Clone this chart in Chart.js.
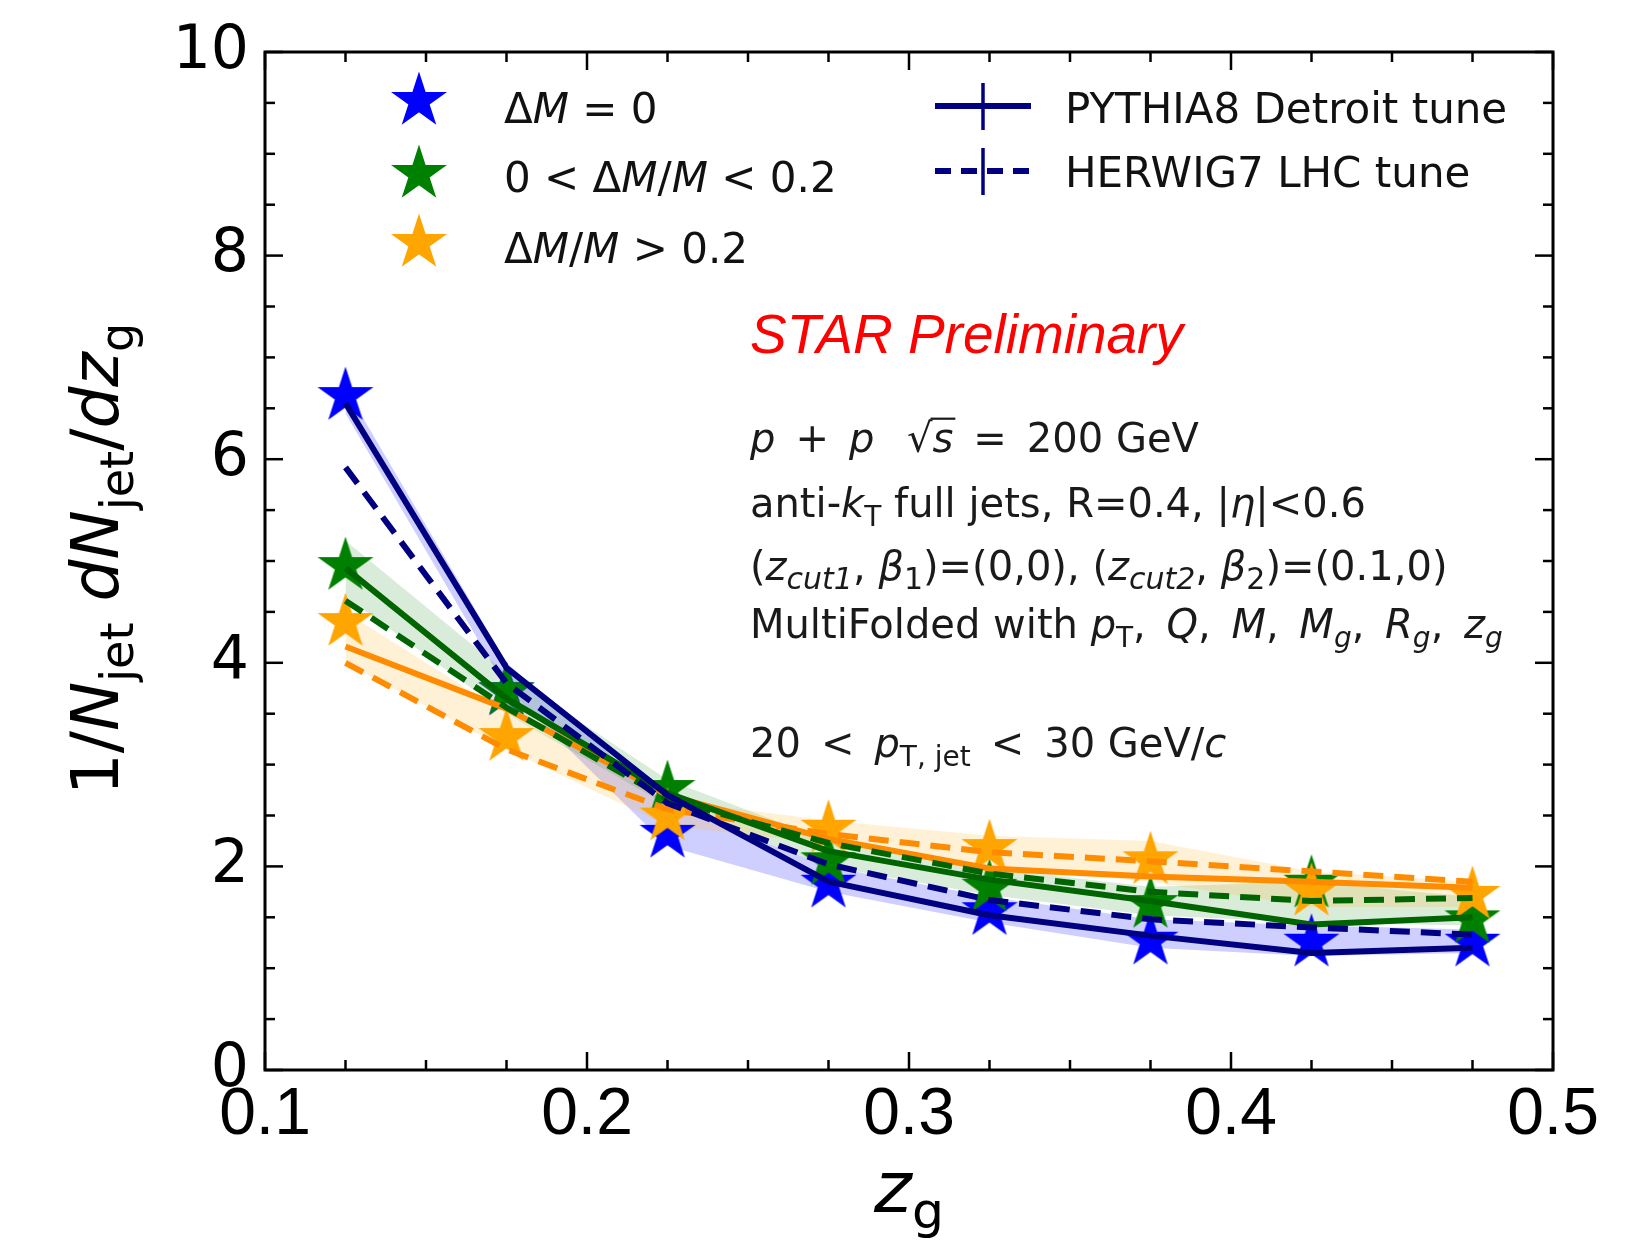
<!DOCTYPE html>
<html><head><meta charset="utf-8">
<script src="https://cdn.jsdelivr.net/npm/chart.js@4.4.1/dist/chart.umd.min.js"></script>
<style>html,body{margin:0;padding:0;background:#fff;} #wrap{width:1639px;height:1240px;position:relative;}</style>
</head><body><div id="wrap"><canvas id="c" width="1639" height="1240"></canvas></div>
<script>
// ---------------- data ----------------
const zg = [0.125, 0.175, 0.225, 0.275, 0.325, 0.375, 0.425, 0.475];
const xTickValues = [0.1, 0.2, 0.3, 0.4, 0.5];
const xTickLabels = ['0.1', '0.2', '0.3', '0.4', '0.5'];
const yTickValues = [0, 2, 4, 6, 8, 10];
const yTickLabels = ['0', '2', '4', '6', '8', '10'];

// data points (stars)
const dataM0   = [6.62, 3.72, 2.32, 1.83, 1.56, 1.27, 1.25, 1.25];
const dataMid  = [4.95, 3.72, 2.76, 2.05, 1.79, 1.63, 1.83, 1.48];
const dataHigh = [4.40, 3.27, 2.49, 2.37, 2.18, 2.06, 1.75, 1.72];
// uncertainty bands
const bandM0Lo   = [6.45, 3.75, 2.20, 1.75, 1.45, 1.20, 1.12, 1.15];
const bandM0Hi   = [6.70, 4.00, 2.60, 2.00, 1.70, 1.48, 1.42, 1.38];
const bandMidLo  = [4.65, 3.50, 2.60, 2.00, 1.72, 1.52, 1.45, 1.42];
const bandMidHi  = [5.20, 3.90, 2.85, 2.25, 1.98, 1.80, 1.85, 1.70];
const bandHighLo = [4.00, 3.15, 2.40, 2.22, 2.00, 1.85, 1.60, 1.60];
const bandHighHi = [4.50, 3.50, 2.65, 2.45, 2.30, 2.25, 1.95, 1.85];
// PYTHIA8 Detroit tune (solid)
const pyM0   = [6.55, 3.95, 2.70, 1.85, 1.52, 1.32, 1.15, 1.20];
const pyMid  = [4.93, 3.65, 2.72, 2.15, 1.87, 1.66, 1.43, 1.50];
const pyHigh = [4.16, 3.55, 2.70, 2.27, 1.98, 1.90, 1.85, 1.79];
// HERWIG7 LHC tune (dashed)
const hwM0   = [5.92, 3.80, 2.62, 2.02, 1.67, 1.48, 1.40, 1.33];
const hwMid  = [4.61, 3.56, 2.66, 2.23, 1.93, 1.75, 1.66, 1.69];
const hwHigh = [4.00, 3.15, 2.56, 2.32, 2.14, 2.05, 1.95, 1.85];

const pts = arr => arr.map((v, i) => ({x: zg[i], y: v}));

// ---------------- styles ----------------
const C_BLUE = '#0000ff', C_GREEN = '#008000', C_ORANGE = '#ffa500';
const C_NAVY = '#000080', C_DGREEN = '#006400', C_DORANGE = '#ff8c00';
const STAR_R = 27;
const LW = 6;

function starCanvas(color, R) {
  const s = Math.ceil(2 * R + 6);
  const c = document.createElement('canvas');
  c.width = s; c.height = s;
  const g = c.getContext('2d');
  g.translate(s / 2, s / 2);
  g.beginPath();
  for (let i = 0; i < 10; i++) {
    const r = i % 2 ? R * 0.382 : R;
    const a = -Math.PI / 2 + i * Math.PI / 5;
    g.lineTo(r * Math.cos(a), r * Math.sin(a));
  }
  g.closePath();
  g.fillStyle = color; g.fill();
  g.lineWidth = 1.5; g.strokeStyle = color; g.lineJoin = 'miter'; g.stroke();
  return c;
}
const starBlue = starCanvas(C_BLUE, STAR_R);
const starGreen = starCanvas(C_GREEN, STAR_R);
const starOrange = starCanvas(C_ORANGE, STAR_R);

function bandPair(lo, hi, fillColor, order) {
  return [
    {data: pts(hi), showLine: true, borderWidth: 0, pointRadius: 0, fill: '+1', backgroundColor: fillColor, borderColor: 'rgba(0,0,0,0)', order: order},
    {data: pts(lo), showLine: true, borderWidth: 0, pointRadius: 0, fill: false, borderColor: 'rgba(0,0,0,0)', order: order}
  ];
}
function starSet(arr, img, order) {
  return {data: pts(arr), showLine: false, pointStyle: img, pointRadius: STAR_R, pointHoverRadius: STAR_R, order: order};
}
function lineSet(arr, color, dashed, order) {
  return {data: pts(arr), showLine: true, borderColor: color, borderWidth: LW, borderDash: dashed ? [20, 11] : [],
          pointRadius: 0, fill: false, tension: 0, borderJoinStyle: 'round', order: order};
}

const datasets = [
  ...bandPair(bandM0Lo, bandM0Hi, 'rgba(0,0,255,0.19)', 40),
  ...bandPair(bandMidLo, bandMidHi, 'rgba(0,128,0,0.15)', 39),
  ...bandPair(bandHighLo, bandHighHi, 'rgba(255,165,0,0.16)', 38),
  starSet(dataM0, starBlue, 32),
  starSet(dataMid, starGreen, 31),
  starSet(dataHigh, starOrange, 30),
  lineSet(hwHigh, C_DORANGE, true, 16),
  lineSet(pyHigh, C_DORANGE, false, 15),
  lineSet(hwMid, C_DGREEN, true, 14),
  lineSet(pyMid, C_DGREEN, false, 13),
  lineSet(hwM0, C_NAVY, true, 12),
  lineSet(pyM0, C_NAVY, false, 11)
];

// ---------------- rich text helper ----------------
function drawRich(ctx, x, y, runs, size, family, color) {
  let cx = x;
  for (const r of runs) {
    const s = r.sub ? size * (r.ss || 0.7) : size;
    ctx.font = (r.it ? 'italic ' : '') + s + 'px "' + (r.fam || family) + '"';
    const dy = r.sub ? size * 0.22 : 0;
    ctx.fillStyle = r.color || color;
    ctx.fillText(r.t, cx, y + dy);
    const w = ctx.measureText(r.t).width;
    if (r.over) ctx.fillRect(cx - 2, y - size * 0.86, w + 4, Math.max(2, size * 0.055));
    cx += w;
  }
  return cx - x;
}
function richWidth(ctx, runs, size, family) {
  let w = 0;
  for (const r of runs) {
    const s = r.sub ? size * (r.ss || 0.7) : size;
    ctx.font = (r.it ? 'italic ' : '') + s + 'px "' + (r.fam || family) + '"';
    w += ctx.measureText(r.t).width;
  }
  return w;
}

// ---------------- decoration plugin ----------------
const SP = '\u2002'; // wider math-like space
const CM = ', \u2009'; // comma with math spacing
const decor = {
  id: 'decor',
  afterDraw(chart) {
    const ctx = chart.ctx, a = chart.chartArea, xs = chart.scales.x, ys = chart.scales.y;
    ctx.save();
    // ticks (inward, all four sides)
    ctx.strokeStyle = '#000'; ctx.lineWidth = 2.5;
    const MAJ = 18, MIN = 10;
    for (let i = 0; i <= 16; i++) {
      const v = 0.1 + i * 0.025;
      const px = xs.getPixelForValue(v);
      const L = (i % 4 === 0) ? MAJ : MIN;
      ctx.beginPath(); ctx.moveTo(px, a.bottom); ctx.lineTo(px, a.bottom - L); ctx.stroke();
      ctx.beginPath(); ctx.moveTo(px, a.top); ctx.lineTo(px, a.top + L); ctx.stroke();
    }
    for (let i = 0; i <= 20; i++) {
      const v = i * 0.5;
      const py = ys.getPixelForValue(v);
      const L = (i % 4 === 0) ? MAJ : MIN;
      ctx.beginPath(); ctx.moveTo(a.left, py); ctx.lineTo(a.left + L, py); ctx.stroke();
      ctx.beginPath(); ctx.moveTo(a.right, py); ctx.lineTo(a.right - L, py); ctx.stroke();
    }
    // frame
    ctx.lineWidth = 3;
    ctx.strokeRect(a.left, a.top, a.right - a.left, a.bottom - a.top);

    // legend: stars
    const LFS = 42, LF = 'DejaVu Sans';
    ctx.textBaseline = 'alphabetic'; ctx.textAlign = 'left';
    const starRows = [
      {img: starBlue, cy: 101, base: 123, runs: [{t: 'Δ'}, {t: 'M', it: true}, {t: ' = 0'}]},
      {img: starGreen, cy: 174, base: 192, runs: [{t: '0 < Δ'}, {t: 'M', it: true}, {t: '/'}, {t: 'M', it: true}, {t: ' < 0.2'}]},
      {img: starOrange, cy: 243, base: 263, runs: [{t: 'Δ'}, {t: 'M', it: true}, {t: '/'}, {t: 'M', it: true}, {t: ' > 0.2'}]}
    ];
    for (const r of starRows) {
      ctx.drawImage(r.img, 419 - r.img.width / 2, r.cy - r.img.height / 2);
      drawRich(ctx, 504, r.base, r.runs, LFS, LF, '#111');
    }
    // legend: lines
    ctx.strokeStyle = C_NAVY;
    ctx.lineWidth = LW; ctx.setLineDash([]);
    ctx.beginPath(); ctx.moveTo(935, 106); ctx.lineTo(1031, 106); ctx.stroke();
    ctx.lineWidth = 3.5;
    ctx.beginPath(); ctx.moveTo(983, 83); ctx.lineTo(983, 130); ctx.stroke();
    ctx.lineWidth = LW; ctx.setLineDash([16, 10]); ctx.lineDashOffset = 0;
    ctx.beginPath(); ctx.moveTo(935, 171); ctx.lineTo(1031, 171); ctx.stroke();
    ctx.setLineDash([]); ctx.lineWidth = 3.5;
    ctx.beginPath(); ctx.moveTo(983, 148); ctx.lineTo(983, 195); ctx.stroke();
    drawRich(ctx, 1065, 123, [{t: 'PYTHIA8 Detroit tune'}], LFS, LF, '#111');
    drawRich(ctx, 1065, 187, [{t: 'HERWIG7 LHC tune'}], LFS, LF, '#111');

    // annotations
    const AF = 'DejaVu Sans', AS = 40, AC = '#1a1a1a', AX = 750;
    drawRich(ctx, AX, 353, [{t: 'STAR Preliminary', it: true, fam: 'Liberation Sans'}], 55, AF, '#ff0000');
    drawRich(ctx, AX, 452, [{t: 'p', it: true}, {t: SP + '+' + SP}, {t: 'p', it: true}, {t: SP + ' √'}, {t: 's', it: true, over: true}, {t: SP + '=' + SP + '200 GeV'}], AS, AF, AC);
    drawRich(ctx, AX, 517, [{t: 'anti-'}, {t: 'k', it: true}, {t: 'T', sub: true}, {t: ' full jets, R=0.4, |'}, {t: 'η', it: true}, {t: '|<0.6'}], AS, AF, AC);
    drawRich(ctx, AX, 580, [{t: '('}, {t: 'z', it: true}, {t: 'cut1', sub: true, it: true, ss: 0.75}, {t: ', '}, {t: 'β', it: true}, {t: '1', sub: true, ss: 0.75},
      {t: ')=(0,0), ('}, {t: 'z', it: true}, {t: 'cut2', sub: true, it: true, ss: 0.75}, {t: ', '}, {t: 'β', it: true}, {t: '2', sub: true, ss: 0.75}, {t: ')=(0.1,0)'}], AS, AF, AC);
    drawRich(ctx, AX, 638, [{t: 'MultiFolded with '}, {t: 'p', it: true}, {t: 'T', sub: true}, {t: CM}, {t: 'Q', it: true}, {t: CM},
      {t: 'M', it: true}, {t: CM}, {t: 'M', it: true}, {t: 'g', sub: true, it: true}, {t: CM}, {t: 'R', it: true}, {t: 'g', sub: true, it: true},
      {t: CM}, {t: 'z', it: true}, {t: 'g', sub: true, it: true}], AS, AF, AC);
    drawRich(ctx, AX, 757, [{t: '20' + SP + '<' + SP}, {t: 'p', it: true}, {t: 'T, jet', sub: true}, {t: SP + '<' + SP + '30 GeV/'}, {t: 'c', it: true}], AS, AF, AC);

    // axis titles
    const TF = 'DejaVu Sans', TS = 66;
    const yRuns = [{t: '1/'}, {t: 'N', it: true}, {t: 'jet', sub: true}, {t: ' '}, {t: 'dN', it: true}, {t: 'jet', sub: true}, {t: '/'}, {t: 'dz', it: true}, {t: 'g', sub: true}];
    const yw = richWidth(ctx, yRuns, TS, TF);
    ctx.save();
    ctx.translate(118, 559);
    ctx.rotate(-Math.PI / 2);
    drawRich(ctx, -yw / 2, 0, yRuns, TS, TF, '#000');
    ctx.restore();
    const xRuns = [{t: 'z', it: true}, {t: 'g', sub: true}];
    const xw = richWidth(ctx, xRuns, 72, TF);
    drawRich(ctx, (a.left + a.right) / 2 - xw / 2, 1212, xRuns, 72, TF, '#000');
    ctx.restore();
  }
};

new Chart(document.getElementById('c'), {
  type: 'scatter',
  data: {datasets: datasets},
  options: {
    responsive: false, animation: false, devicePixelRatio: 1,
    events: [],
    layout: {padding: {top: 44, right: 86, left: 0, bottom: 0}},
    plugins: {legend: {display: false}, tooltip: {enabled: false}},
    scales: {
      x: {
        type: 'linear', min: 0.1, max: 0.5,
        afterBuildTicks: s => { s.ticks = xTickValues.map(v => ({value: v})); },
        afterFit: s => { s.height = 170; },
        ticks: {callback: (v, i) => xTickLabels[i], font: {family: 'Liberation Sans', size: 66}, color: '#000', padding: 6, maxRotation: 0, autoSkip: false},
        grid: {display: false, drawTicks: false}, border: {display: false}
      },
      y: {
        type: 'linear', min: 0, max: 10,
        afterBuildTicks: s => { s.ticks = yTickValues.map(v => ({value: v})); },
        afterFit: s => { s.width = 265; },
        ticks: {callback: (v, i) => yTickLabels[i], font: {family: 'DejaVu Sans', size: 60}, color: '#000', padding: 16, autoSkip: false},
        grid: {display: false, drawTicks: false}, border: {display: false}
      }
    }
  },
  plugins: [decor]
});
</script></body></html>
